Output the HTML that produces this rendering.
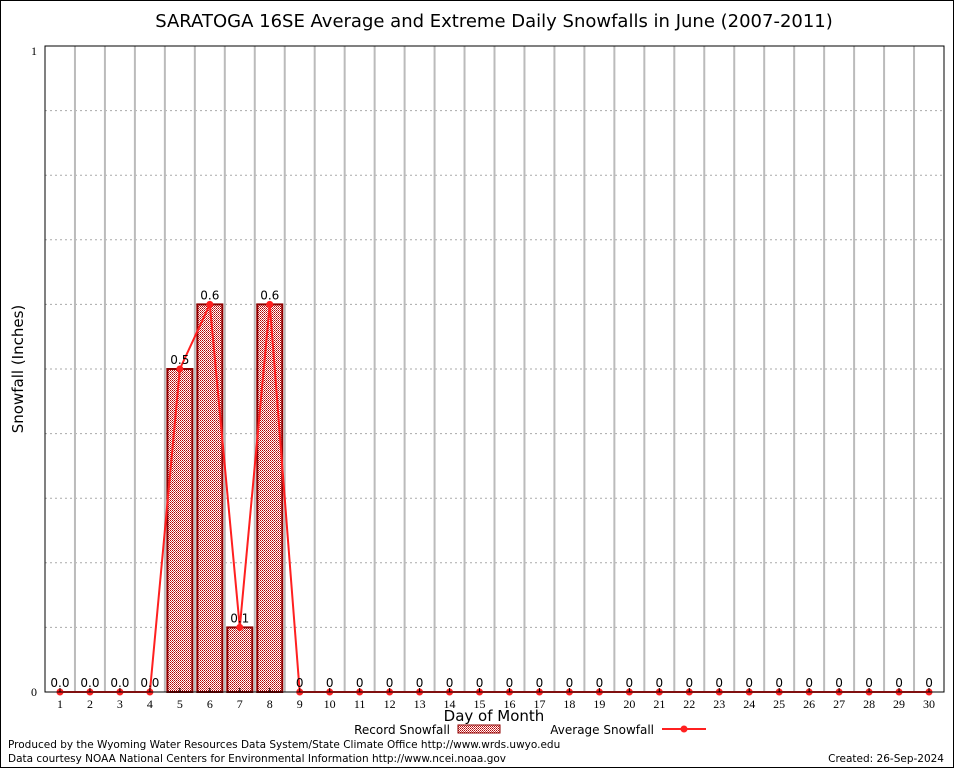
<!DOCTYPE html>
<html><head><style>body{margin:0;background:#fff}svg{display:block}</style></head><body>
<svg width="954" height="768" xmlns="http://www.w3.org/2000/svg" font-family="DejaVu Sans, Liberation Sans, sans-serif">
<defs><pattern id="p" width="2" height="2" patternUnits="userSpaceOnUse"><rect width="2" height="2" fill="#fff"/><rect width="1" height="1" fill="#b00000"/><rect x="1" y="1" width="1" height="1" fill="#d04040"/></pattern></defs>
<rect x="0.5" y="0.5" width="953" height="767" fill="#fff" stroke="#000"/>
<text x="494" y="27" font-size="18" text-anchor="middle">SARATOGA 16SE Average and Extreme Daily Snowfalls in June (2007-2011)</text>
<g id="g"></g>
<rect x="45" y="46" width="899" height="646" fill="none" stroke="#000"/>
<text x="37" y="696" font-size="12" font-family="Liberation Serif, serif" text-anchor="end">0</text>
<text x="37" y="55" font-size="12" font-family="Liberation Serif, serif" text-anchor="end">1</text>
<text transform="translate(23,369) rotate(-90)" font-size="15" text-anchor="middle">Snowfall (Inches)</text>
<text x="494" y="721" font-size="15" text-anchor="middle">Day of Month</text>
<text x="450" y="734" font-size="12" text-anchor="end">Record Snowfall</text>
<rect x="458" y="725" width="42" height="8" fill="url(#p)" stroke="#900000"/>
<text x="654" y="734" font-size="12" text-anchor="end">Average Snowfall</text>
<line x1="662" y1="729" x2="706" y2="729" stroke="#ff2020" stroke-width="2"/><circle cx="684" cy="729" r="3.5" fill="#ff2020"/>
<text x="8" y="748" font-size="10.5">Produced by the Wyoming Water Resources Data System/State Climate Office http://www.wrds.uwyo.edu</text>
<text x="8" y="762" font-size="10.5">Data courtesy NOAA National Centers for Environmental Information http://www.ncei.noaa.gov</text>
<text x="944" y="762" font-size="10.5" text-anchor="end">Created:  26-Sep-2024</text>
</svg>
<script>
var g=document.getElementById('g'),s='';
var L=45,W=899,B=692,H=646,dx=W/30;
function X(i){return L+(i-0.5)*dx}function Y(v){return B-v*H}
for(var k=1;k<10;k++)s+='<line x1="45" x2="944" y1="'+Y(k/10)+'" y2="'+Y(k/10)+'" stroke="#aaa" stroke-dasharray="2,3"/>';
for(var i=1;i<30;i++)s+='<line x1="'+(L+i*dx)+'" x2="'+(L+i*dx)+'" y1="46" y2="692" stroke="#bbb" stroke-width="2"/>';
var rec={5:.5,6:.6,7:.1,8:.6};
for(var d in rec)s+='<rect x="'+(X(+d)-12.5)+'" y="'+Y(rec[d])+'" width="25" height="'+(rec[d]*H)+'" fill="url(#p)" stroke="#900000" stroke-width="2"/>';
var pts=[];for(i=1;i<=30;i++){var v=rec[i]||0;pts.push(X(i)+','+Y(v));}
s+='<polyline points="'+pts.join(' ')+'" fill="none" stroke="#ff2020" stroke-width="2"/>';
for(i=1;i<=30;i++){var v=rec[i]||0;s+='<circle cx="'+X(i)+'" cy="'+Y(v)+'" r="3.5" fill="#ff2020"/>';
var lab=i<=4?'0.0':(rec[i]?String(rec[i]):'0');
s+='<text x="'+X(i)+'" y="'+(Y(v)-5)+'" font-size="12" text-anchor="middle">'+lab+'</text>';
s+='<text x="'+X(i)+'" y="708" font-size="12" font-family="Liberation Serif, serif" text-anchor="middle">'+i+'</text>';
s+='<line x1="'+X(i)+'" x2="'+X(i)+'" y1="692" y2="688" stroke="#000"/>';}
g.innerHTML=s;
</script>
</body></html>
